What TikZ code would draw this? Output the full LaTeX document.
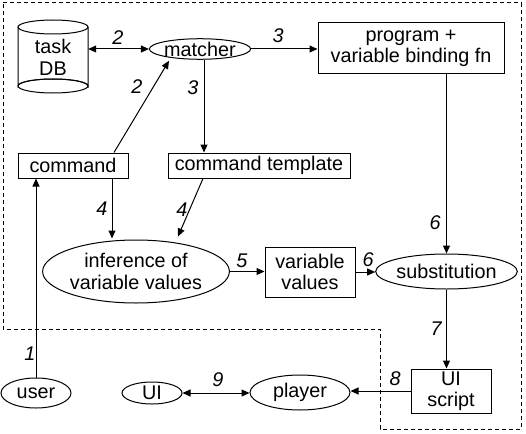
\documentclass[tikz,border=0pt]{standalone}
\usepackage{fontspec}
\setmainfont{Liberation Sans}
\usetikzlibrary{arrows.meta,shapes.geometric}
\begin{document}
\begin{tikzpicture}[x=1pt,y=-1pt,
  every node/.style={font=\fontsize{19.8}{21.5}\selectfont, inner sep=0pt, align=center},
  box/.style={draw, rectangle, line width=1pt},
  oval/.style={draw, ellipse, line width=1pt},
  num/.style={font=\fontsize{19.8}{21.5}\selectfont\itshape},
  conn/.style={line width=1pt, -{Triangle[length=8pt,width=7pt]}},
  bconn/.style={line width=1pt, {Triangle[length=8pt,width=7pt]}-{Triangle[length=8pt,width=7pt]}},
  bound/.style={line width=1pt, dash pattern=on 4pt off 3pt}
]
\useasboundingbox (0,0) rectangle (526,433);
% boundary
\draw[bound] (3,3) -- (521,3) -- (521,429) -- (380,429) -- (380,329) -- (3,329) -- cycle;
% task DB cylinder
\node[minimum width=70pt, minimum height=73pt] (db) at (53,56.5) {};
\draw[line width=1pt, fill=white] (18,27) -- (18,86) arc[start angle=180, end angle=360, x radius=35, y radius=7] -- (88,27);
\draw[line width=1pt] (53,86) ellipse[x radius=35, y radius=7];
\draw[line width=1pt] (53,27) ellipse[x radius=35, y radius=7];
\node (dbtext) at (53,57.5) {task\\DB};
% nodes
\node[oval, minimum width=101pt, minimum height=20pt] (m) at (200,49) {matcher};
\node[box, minimum width=186pt, minimum height=51pt] (prog) at (411,48.5) {program +\\variable binding fn};
\node[box, minimum width=110pt, minimum height=25pt] (cmd) at (73,165.5) {command};
\node[box, minimum width=182pt, minimum height=25pt] (ct) at (259,165.5) {command template};
\node[oval, minimum width=182pt, minimum height=63pt] (inf) at (136,271.5) {inference of\\variable values};
\node[box, minimum width=90pt, minimum height=50pt] (vv) at (310,272) {variable\\values};
\node[oval, minimum width=121pt, minimum height=35pt] (sub) at (446.5,271.5) {substitution};
\node[oval, minimum width=70pt, minimum height=30pt] (user) at (36,393) {user};
\node[oval, minimum width=60pt, minimum height=22pt] (ui) at (152,393) {UI};
\node[oval, minimum width=100pt, minimum height=35pt] (pl) at (300,392.5) {player};
\node[box, minimum width=80pt, minimum height=44pt] (uis) at (451,391) {UI\\script};
% connectors
\draw[bconn] (db.east |- m.west) -- (m.west);
\draw[conn] (m.east) -- (m.east -| prog.west);
\draw[conn] ([xshift=41]cmd.north) -- ([xshift=-31,yshift=-1]m.south);
\draw[conn] ([xshift=4]m.south) -- ([xshift=4]m.south |- ct.north);
\draw[conn] ([xshift=39]cmd.south) -- ([xshift=39,yshift=1]cmd.south |- inf.north);
\draw[conn] ([xshift=-56]ct.south) -- ([xshift=42,yshift=3]inf.north);
\draw[conn] (inf.east) -- (inf.east -| vv.west);
\draw[conn] (vv.east) -- (vv.east -| sub.west);
\draw[conn] (prog.south -| sub.north) -- (sub.north);
\draw[conn] (sub.south) -- (sub.south |- uis.north);
\draw[conn] (uis.west) -- (uis.west -| pl.east);
\draw[bconn] (ui.east) -- (ui.east -| pl.west);
\draw[conn] (user.north) -- (user.north |- cmd.south);
% labels
\node[num] (l1) at (118,38) {2};
\node[num] (l2) at (278,36) {3};
\node[num] (l3) at (137,87) {2};
\node[num] (l4) at (193,88) {3};
\node[num] (l5) at (102,209) {4};
\node[num] (l6) at (182,210) {4};
\node[num] (l7) at (242,261) {5};
\node[num] (l8) at (368,260) {6};
\node[num] (l9) at (435,223) {6};
\node[num] (l10) at (436,329) {7};
\node[num] (l11) at (395,379) {8};
\node[num] (l12) at (218,380) {9};
\node[num] (l13) at (30,354) {1};
\end{tikzpicture}
\end{document}
